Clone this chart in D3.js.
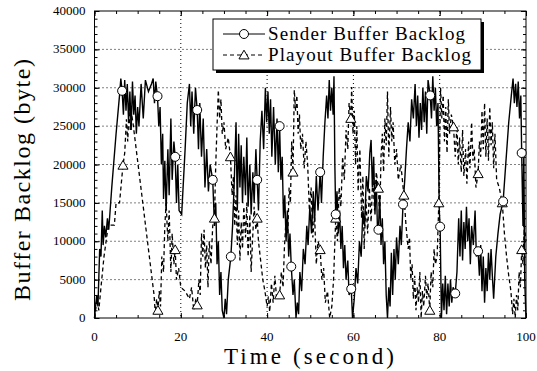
<!DOCTYPE html>
<html>
<head>
<meta charset="utf-8">
<script src="https://d3js.org/d3.v7.min.js"></script>
<style>
  body { margin: 0; background: #fff; }
</style>
</head>
<body>
<div id="chart"></div>
<script>
// Data (time in seconds, backlog in bytes)
const sender = [
  [0,0],[0.5,3000],[0.8,1500],[1.2,9000],[1.5,8000],[1.8,14000],[2.0,9500],[2.3,12000],[2.6,10500],[3.0,13000],
  [3.3,11500],[4,17000],[5,24000],[5.8,29000],[6.1,31200],[6.4,29600],[6.7,26500],[7.0,31000],[7.3,27000],[7.6,30500],
  [7.9,25500],[8.2,29500],[8.5,24500],[8.8,30800],[9.1,26500],[9.4,29000],[9.7,24000],[10.0,27500],[10.3,25000],[10.8,30500],
  [11.3,26000],[11.8,31000],[12.5,29500],[13.2,30500],[13.6,31200],[13.9,28000],[14.2,30800],[14.6,28900],[14.9,25000],[15.2,27500],
  [15.5,20000],[15.8,24000],[16.0,15500],[16.3,20500],[16.6,14000],[17.0,22000],[17.3,16000],[17.7,26000],[18.0,18000],[18.4,23000],
  [18.7,21000],[19.0,15000],[19.3,20000],[19.6,14000],[20.2,13500],[21.0,22000],[21.5,28000],[22.0,30500],[22.3,25000],[22.6,29500],
  [23.0,24000],[23.4,30000],[23.8,27100],[24.1,22000],[24.4,28000],[24.8,21000],[25.2,26000],[25.6,17000],[26.0,22000],[26.4,16500],
  [26.8,20000],[27.4,18000],[27.8,12000],[28.1,15000],[28.4,7000],[28.7,10000],[29.0,3000],[29.3,6000],[29.6,1000],[30.0,0],
  [30.3,2500],[30.6,500],[31.0,5000],[31.6,8000],[32.0,12000],[32.4,18000],[32.8,25500],[33.1,14000],[33.4,24000],[33.7,17000],
  [34.0,22500],[34.3,15000],[34.6,21000],[35.0,16000],[35.3,23500],[35.6,14500],[36.0,20000],[36.3,13500],[36.7,19000],[37.0,15000],
  [37.4,22000],[37.7,18000],[38.0,14000],[38.4,23000],[38.8,27000],[39.2,22000],[39.6,30000],[39.9,25500],[40.2,29500],[40.5,24000],
  [40.8,28500],[41.1,21000],[41.5,27500],[41.9,20000],[42.3,26000],[42.6,19000],[42.9,25000],[43.2,18000],[43.5,21000],[43.8,13000],
  [44.1,16000],[44.4,10000],[44.7,14000],[45.0,8000],[45.3,11000],[45.6,6700],[46.0,3000],[46.3,5000],[46.7,0],[47.0,2000],
  [47.3,500],[47.6,6000],[48.0,3500],[48.4,9000],[48.8,7000],[49.2,12000],[49.5,9500],[49.9,14500],[50.3,11000],[50.7,16500],
  [51.0,12500],[51.4,18500],[51.8,14000],[52.3,19000],[52.6,15000],[53.0,21000],[53.4,25500],[53.8,29000],[54.1,26000],[54.4,31000],
  [54.7,27000],[55.0,30000],[55.3,26500],[55.5,31500],[55.7,20000],[55.9,13500],[56.2,16500],[56.5,11000],[56.8,14000],[57.1,9000],
  [57.4,12000],[57.7,6500],[58.0,9500],[58.3,5000],[58.7,7500],[59.0,3000],[59.5,3800],[59.8,0],[60.2,2500],[60.6,6500],
  [61.0,4500],[61.4,10000],[61.8,8000],[62.2,14000],[62.6,12000],[63.0,18500],[63.4,16500],[63.8,21500],[64.1,23200],[64.4,17000],
  [64.7,21000],[65.0,13500],[65.3,18000],[65.6,11000],[65.8,11500],[66.1,16000],[66.4,9500],[66.7,13000],[67.0,7000],[67.3,10000],
  [67.6,3000],[67.9,0],[68.2,4000],[68.5,1500],[68.8,8500],[69.1,3000],[69.4,9000],[69.7,5000],[70.0,10500],[70.4,7000],
  [70.8,12000],[71.1,9500],[71.5,14800],[71.9,18000],[72.3,22000],[72.7,25500],[73.1,23000],[73.5,28500],[73.9,26000],[74.3,30500],
  [74.6,25000],[74.9,29000],[75.2,23500],[75.5,28000],[75.8,24500],[76.1,30000],[76.4,25500],[76.7,29500],[77.0,24000],[77.3,31000],
  [77.8,29000],[78.1,26000],[78.4,31500],[78.7,27000],[79.0,30000],[79.3,25000],[79.6,28000],[79.9,14000],[80.1,11900],[80.4,0],
  [80.7,4500],[81.0,1000],[81.3,5500],[81.6,500],[81.9,4500],[82.2,1500],[82.5,5000],[82.8,2000],[83.1,4000],[83.6,3200],
  [84.0,6000],[84.4,13000],[84.7,8000],[85.0,14000],[85.3,7500],[85.6,12500],[85.9,9000],[86.2,14500],[86.5,10000],[86.8,13000],
  [87.1,7000],[87.4,12000],[87.8,9500],[88.2,14000],[88.5,8000],[88.9,8700],[89.2,5500],[89.5,9500],[89.8,3500],[90.1,8000],
  [90.4,2000],[90.7,6500],[91.0,3500],[91.3,8500],[91.6,5000],[91.9,9000],[92.2,5500],[92.5,2500],[93.0,8000],[93.5,11000],
  [94.0,13500],[94.7,15200],[95.3,20000],[96.0,25500],[96.6,29000],[97.0,31200],[97.3,28000],[97.6,30500],[97.9,27500],[98.2,30800],
  [98.5,26000],[98.8,29000],[99.0,21500],[99.3,12000],[99.5,22000],[99.7,5000],[100,0]
];

const playout = [
  [0,0],[0.6,2500],[1.0,1000],[1.5,4000],[2.2,8000],[3.2,12100],[4.6,12100],[5.0,15000],[5.8,15000],[6.6,19900],
  [7.0,21500],[7.4,25900],[7.7,23000],[8.0,27000],[8.3,24500],[8.6,26500],[8.9,25500],[13.8,3000],[14.1,500],[14.4,2500],
  [14.7,1000],[15.0,3500],[15.3,1500],[15.6,8000],[16.0,6000],[16.3,12000],[16.6,15000],[17.0,10000],[17.3,14000],[17.7,6000],
  [18.0,11000],[18.4,7000],[18.7,8900],[19.0,5000],[19.5,6500],[20.0,4000],[21.0,3500],[22.0,2500],[22.5,4000],[23.0,1000],
  [23.5,2500],[23.8,1700],[24.2,5000],[24.5,3000],[24.8,11000],[25.1,8000],[25.4,11500],[25.7,6500],[26.0,9500],[26.3,4000],
  [26.6,10000],[27.0,7000],[27.4,12000],[27.8,13000],[28.1,20000],[28.4,25000],[28.7,29700],[29.0,26000],[29.3,28500],[29.6,24000],
  [30.0,25500],[30.4,22000],[31.0,23500],[31.5,21000],[31.9,16000],[32.2,18500],[32.5,12000],[32.8,16000],[33.1,9500],[33.4,14000],
  [33.7,7500],[34.0,12500],[34.3,9000],[34.6,14500],[35.0,10500],[35.3,15000],[35.6,8000],[36.0,13500],[36.3,6000],[36.7,11000],
  [37.0,14500],[37.4,11500],[37.7,13000],[38.0,10000],[38.5,7500],[39.0,5000],[39.5,3500],[40.0,1500],[40.3,2800],[40.6,800],
  [41.0,4500],[41.4,2000],[41.8,5500],[42.2,2500],[42.9,3000],[43.3,6000],[43.7,4000],[44.0,9000],[44.4,13000],[44.8,11000],
  [45.1,17000],[45.4,15000],[45.7,23000],[46.0,19000],[46.3,29700],[46.6,27000],[46.9,29000],[47.2,24000],[47.5,26500],[47.8,22000],
  [48.2,24000],[48.6,19500],[49.0,23000],[49.4,20000],[49.8,14000],[50.2,17000],[50.6,10500],[51.0,13500],[51.4,7000],[51.8,10000],
  [52.3,8900],[52.7,5000],[53.1,6500],[53.5,2000],[54.0,3500],[54.5,0],[55.0,1500],[55.4,5000],[55.9,13000],[56.3,10000],
  [56.7,17000],[57.1,14500],[57.5,21000],[57.9,18000],[58.3,24500],[58.7,22000],[59.0,28000],[59.4,26000],[59.6,30100],[59.9,24000],
  [60.2,27000],[60.5,20000],[60.8,25000],[61.1,16500],[61.5,22000],[61.9,13000],[62.2,18500],[62.5,9000],[62.9,15500],[63.3,11000],
  [63.7,17000],[64.1,12500],[64.5,18500],[64.9,14000],[65.3,19000],[65.8,16900],[66.1,13000],[66.4,21000],[66.7,24000],[67.0,19000],
  [67.3,26000],[67.6,22500],[67.9,29500],[68.2,21000],[68.6,27500],[68.9,23000],[69.2,25500],[69.6,20000],[70.0,22000],[70.4,18000],
  [71.0,20000],[71.7,16000],[72.2,12000],[72.7,9000],[73.0,10500],[73.3,5000],[73.6,7000],[73.9,2500],[74.2,5500],[74.5,1000],
  [74.8,4000],[75.1,2000],[75.4,6000],[75.7,0],[76.0,3500],[76.3,1500],[76.7,5500],[77.0,2500],[77.3,4500],[77.7,1000],
  [78.0,6000],[78.4,4000],[78.7,9000],[79.0,7000],[79.4,8000],[79.8,15000],[80.2,30000],[80.5,26000],[80.8,29000],[81.1,23000],
  [81.4,27500],[81.7,21500],[82.0,28500],[82.3,24000],[82.7,26500],[83.2,24900],[83.6,21000],[84.0,25000],[84.3,20000],[84.6,23500],
  [85.0,19000],[85.3,24500],[85.6,18500],[86.0,22000],[86.3,17500],[86.7,23000],[87.0,19500],[87.4,25500],[87.7,20500],[88.0,22000],
  [88.4,17000],[88.9,18800],[89.2,23000],[89.5,21000],[89.8,27000],[90.1,22000],[90.4,28000],[90.7,21000],[91.0,26000],[91.3,20500],
  [91.6,27500],[91.9,22500],[92.2,25500],[92.5,19500],[92.8,24000],[93.2,18000],[93.8,17000],[94.5,15000],[95.0,11000],[95.5,8000],
  [96.0,5500],[96.5,3500],[96.9,500],[97.2,2500],[97.5,0],[97.8,3000],[98.1,1000],[98.4,6000],[98.7,4000],[99.0,8900],
  [99.3,7000],[99.6,12000],[100,10000]
];

// marker times on each series
const senderMarks = [6.4,14.6,18.7,23.8,27.4,31.6,37.7,42.9,45.6,52.3,55.9,59.5,65.8,71.5,77.8,80.1,83.6,88.9,94.7,99.0];
const playoutMarks = [6.6,14.7,18.7,23.8,27.8,31.5,37.7,42.9,46.0,52.3,55.9,59.4,65.8,71.7,77.7,79.8,83.2,88.9,94.5,99.0];

const xTicks = [0, 20, 40, 60, 80, 100];
const yTicks = [0, 5000, 10000, 15000, 20000, 25000, 30000, 35000, 40000];
const seriesNames = ["Sender Buffer Backlog", "Playout Buffer Backlog"];

const width = 537, height = 371;
const margin = { top: 11, right: 11, bottom: 53, left: 94.5 };
const innerW = width - margin.left - margin.right;
const innerH = height - margin.top - margin.bottom;
const serif = '"Liberation Serif"';

const svg = d3.select("#chart").append("svg")
  .attr("width", width).attr("height", height);
const g = svg.append("g").attr("transform", `translate(${margin.left},${margin.top})`);

const x = d3.scaleLinear().domain([0, 100]).range([0, innerW]);
const y = d3.scaleLinear().domain([0, 40000]).range([innerH, 0]);

// grid
g.selectAll(".gx").data(xTicks.slice(1, -1)).join("line")
  .attr("x1", d => x(d)).attr("x2", d => x(d)).attr("y1", 0).attr("y2", innerH)
  .attr("stroke", "#000").attr("stroke-width", 1).attr("stroke-dasharray", "1,3");
g.selectAll(".gy").data(yTicks.slice(1, -1)).join("line")
  .attr("x1", 0).attr("x2", innerW).attr("y1", d => y(d)).attr("y2", d => y(d))
  .attr("stroke", "#000").attr("stroke-width", 1).attr("stroke-dasharray", "1,3");

// axes with inward ticks
const minorX = d3.range(0, 101, 5);
const minorY = d3.range(0, 40001, 1000);
function tickAxis(axis, scale, values, size) {
  return axis(scale).tickValues(values).tickSize(size).tickFormat("");
}
g.append("g").attr("transform", `translate(0,${innerH})`).call(tickAxis(d3.axisTop, x, minorX, 3));
g.append("g").attr("transform", `translate(0,${innerH})`).call(tickAxis(d3.axisTop, x, xTicks, 5));
g.append("g").call(tickAxis(d3.axisBottom, x, minorX, 3));
g.append("g").call(tickAxis(d3.axisBottom, x, xTicks, 5));
g.append("g").call(tickAxis(d3.axisRight, y, minorY, 3));
g.append("g").call(tickAxis(d3.axisRight, y, yTicks, 5));
g.append("g").attr("transform", `translate(${innerW},0)`).call(tickAxis(d3.axisLeft, y, minorY, 3));
g.append("g").attr("transform", `translate(${innerW},0)`).call(tickAxis(d3.axisLeft, y, yTicks, 5));
g.selectAll(".domain").remove();

g.append("rect").attr("width", innerW).attr("height", innerH)
  .attr("fill", "none").attr("stroke", "#000").attr("stroke-width", 1);

// tick labels
g.selectAll(".xl").data(xTicks).join("text")
  .attr("x", d => x(d)).attr("y", innerH + 23)
  .attr("text-anchor", "middle").style("font-family", serif).style("font-size", "13px").text(d => d);
g.selectAll(".yl").data(yTicks).join("text")
  .attr("x", -9).attr("y", d => y(d) + 4)
  .attr("text-anchor", "end").style("font-family", serif).style("font-size", "13px").text(d => d);

// axis titles
svg.append("text").attr("x", 309).attr("y", 364).attr("text-anchor", "middle")
  .attr("textLength", 170).attr("lengthAdjust", "spacing").style("font-family", serif)
  .style("font-size", "23px").text("Time  (second)");
svg.append("text").attr("transform", "translate(30,180) rotate(-90)").attr("text-anchor", "middle")
  .attr("textLength", 242).attr("lengthAdjust", "spacing").style("font-family", serif)
  .style("font-size", "24px").text("Buffer Backlog  (byte)");

// data lines
const line = d3.line().x(d => x(d[0])).y(d => y(d[1]));
const plot = g.append("g");
plot.append("path").datum(playout).attr("d", line)
  .attr("fill", "none").attr("stroke", "#000").attr("stroke-width", 1.3).attr("stroke-dasharray", "4,3");
plot.append("path").datum(sender).attr("d", line)
  .attr("fill", "none").attr("stroke", "#000").attr("stroke-width", 1.4);

const triangle = d3.symbol().type(d3.symbolTriangle).size(44);
const valueAt = (series, t) => series.find(d => d[0] === t);

plot.selectAll(".tri").data(playoutMarks.map(t => valueAt(playout, t))).join("path")
  .attr("d", triangle)
  .attr("transform", d => `translate(${x(d[0])},${y(d[1]) + 1})`)
  .attr("fill", "#fff").attr("stroke", "#000").attr("stroke-width", 1);
plot.selectAll(".circ").data(senderMarks.map(t => valueAt(sender, t))).join("circle")
  .attr("cx", d => x(d[0])).attr("cy", d => y(d[1])).attr("r", 4.5)
  .attr("fill", "#fff").attr("stroke", "#000").attr("stroke-width", 1);

// legend
const lg = svg.append("g").attr("transform", "translate(213,19)");
const lw = 268, lh = 51;
lg.append("rect").attr("x", 3).attr("y", 3).attr("width", lw).attr("height", lh).attr("fill", "#000");
lg.append("rect").attr("width", lw).attr("height", lh).attr("fill", "#fff").attr("stroke", "#000").attr("stroke-width", 1);
const rows = lg.selectAll(".row").data(seriesNames).join("g")
  .attr("transform", (d, i) => `translate(0,${15 + i * 21})`);
rows.append("line").attr("x1", 10).attr("x2", 52).attr("y1", 0).attr("y2", 0)
  .attr("stroke", "#000").attr("stroke-width", 1)
  .attr("stroke-dasharray", (d, i) => i === 0 ? null : "4,3");
rows.filter((d, i) => i === 0).append("circle").attr("cx", 31).attr("cy", 0).attr("r", 4.5)
  .attr("fill", "#fff").attr("stroke", "#000");
rows.filter((d, i) => i === 1).append("path").attr("d", triangle)
  .attr("transform", "translate(31,1)").attr("fill", "#fff").attr("stroke", "#000");
rows.append("text").attr("x", 55).attr("y", 6)
  .attr("textLength", (d, i) => i === 0 ? 197 : 203).attr("lengthAdjust", "spacing")
  .style("font-family", serif)
  .style("font-size", "19px").text(d => d);
</script>
</body>
</html>
